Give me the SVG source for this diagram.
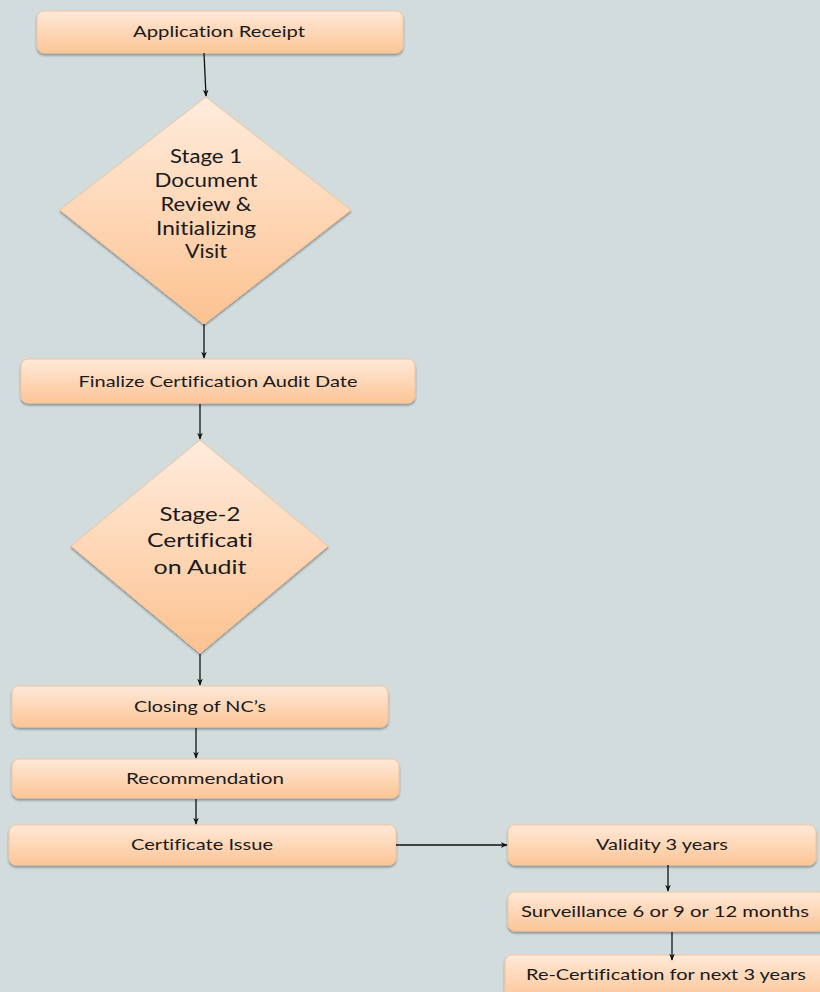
<svg xmlns="http://www.w3.org/2000/svg" width="820" height="992" viewBox="0 0 820 992">
<defs>
<linearGradient id="gBox" x1="0" y1="0" x2="0" y2="1">
<stop offset="0" stop-color="#ffe9d8"/>
<stop offset="1" stop-color="#fcc596"/>
</linearGradient>
<linearGradient id="gDia" x1="0" y1="0" x2="0" y2="1">
<stop offset="0" stop-color="#ffecdd"/>
<stop offset="1" stop-color="#fcc290"/>
</linearGradient>
<filter id="sh" x="-5%" y="-10%" width="110%" height="130%">
<feGaussianBlur in="SourceAlpha" stdDeviation="1.2"/>
<feOffset dx="0" dy="1.5" result="b"/>
<feComponentTransfer><feFuncA type="linear" slope="0.35"/></feComponentTransfer>
<feMerge><feMergeNode/><feMergeNode in="SourceGraphic"/></feMerge>
</filter>
<marker id="ah" viewBox="0 0 10 10" refX="9" refY="5" markerWidth="7" markerHeight="7" orient="auto" markerUnits="userSpaceOnUse">
<path d="M0,1 L10,5 L0,9 L3,5 Z" fill="#111"/>
</marker>
</defs>
<style>
.box{fill:url(#gBox);stroke:#f3c49c;stroke-width:1;filter:url(#sh)}
.dia{fill:url(#gDia);stroke:#f3c49c;stroke-width:1;filter:url(#sh)}
.t,.td,.td2{font-family:Lato,"Open Sans","Liberation Sans",sans-serif;fill:#1a1a1a;text-anchor:middle;font-variant-ligatures:none;font-feature-settings:"liga" 0}
.t{font-size:16px}
.td{font-size:18.5px}
.td2{font-size:19.5px}
.c{stroke:#111;stroke-width:1.3;fill:none;marker-end:url(#ah)}
</style>
<rect width="820" height="992" fill="#d2dcdd"/>

<g id="n1">
<rect class="box" x="37" y="11" width="366" height="42" rx="7"/>
<text class="t" x="219" y="37" textLength="172" lengthAdjust="spacingAndGlyphs">Application Receipt</text>
</g>

<g id="n2">
<polygon class="dia" points="206,97 351,210 204,324 60,210"/>
<text class="td" x="206" y="163" textLength="72" lengthAdjust="spacingAndGlyphs">Stage 1</text>
<text class="td" x="206" y="187" textLength="103" lengthAdjust="spacingAndGlyphs">Document</text>
<text class="td" x="206" y="211" textLength="91" lengthAdjust="spacingAndGlyphs">Review &amp;</text>
<text class="td" x="206" y="235" textLength="100" lengthAdjust="spacingAndGlyphs">Initializing</text>
<text class="td" x="206" y="258" textLength="42" lengthAdjust="spacingAndGlyphs">Visit</text>
</g>

<g id="n3">
<rect class="box" x="21" y="359" width="394" height="44" rx="7"/>
<text class="t" x="218" y="387" textLength="279" lengthAdjust="spacingAndGlyphs">Finalize Certification Audit Date</text>
</g>

<g id="n4">
<polygon class="dia" points="200,440 328,546 200,653 71,546"/>
<text class="td2" x="200" y="521" textLength="81" lengthAdjust="spacingAndGlyphs">Stage-2</text>
<text class="td2" x="200" y="547" textLength="106" lengthAdjust="spacingAndGlyphs">Certificati</text>
<text class="td2" x="200" y="574" textLength="93" lengthAdjust="spacingAndGlyphs">on Audit</text>
</g>

<g id="n5">
<rect class="box" x="12" y="686" width="376" height="41" rx="7"/>
<text class="t" x="200" y="712" textLength="132" lengthAdjust="spacingAndGlyphs">Closing of NC’s</text>
</g>

<g id="n6">
<rect class="box" x="12" y="759" width="387" height="39" rx="7"/>
<text class="t" x="205" y="784" textLength="158" lengthAdjust="spacingAndGlyphs">Recommendation</text>
</g>

<g id="n7">
<rect class="box" x="9" y="825" width="387" height="40" rx="7"/>
<text class="t" x="202" y="850" textLength="142" lengthAdjust="spacingAndGlyphs">Certificate Issue</text>
</g>

<g id="n8">
<rect class="box" x="508" y="825" width="308" height="40" rx="7"/>
<text class="t" x="662" y="850" textLength="132" lengthAdjust="spacingAndGlyphs">Validity 3 years</text>
</g>

<g id="n9">
<rect class="box" x="508" y="892" width="318" height="39" rx="7"/>
<text class="t" x="665" y="917" textLength="288" lengthAdjust="spacingAndGlyphs">Surveillance 6 or 9 or 12 months</text>
</g>

<g id="n10">
<rect class="box" x="505" y="955" width="325" height="45" rx="7"/>
<text class="t" x="666" y="980" textLength="280" lengthAdjust="spacingAndGlyphs">Re-Certification for next 3 years</text>
</g>

<g id="connectors">
<line class="c" x1="204" y1="53" x2="206" y2="96"/>
<line class="c" x1="204" y1="324" x2="204" y2="358"/>
<line class="c" x1="200" y1="404" x2="200" y2="439"/>
<line class="c" x1="200" y1="654" x2="200" y2="685"/>
<line class="c" x1="196" y1="728" x2="196" y2="758"/>
<line class="c" x1="196" y1="799" x2="196" y2="824"/>
<line class="c" x1="396" y1="845" x2="507" y2="845"/>
<line class="c" x1="668" y1="865" x2="668" y2="891"/>
<line class="c" x1="672" y1="932" x2="672" y2="960"/>
</g>
</svg>
